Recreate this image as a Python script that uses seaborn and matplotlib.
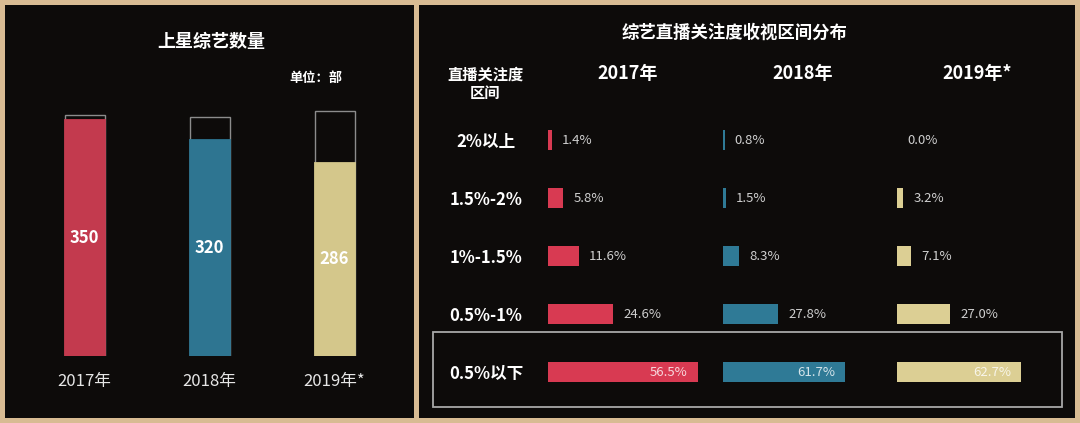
import matplotlib
matplotlib.use("Agg")
import matplotlib.pyplot as plt
from matplotlib.patches import Rectangle
import seaborn as sns
import pandas as pd

# ---------------- data ----------------
years = ["2017年", "2018年", "2019年*"]
shows = [350, 320, 286]                 # 上星综艺数量 (部)
capacity = [357, 354, 362]              # outline boxes behind the bars
ranges = ["2%以上", "1.5%-2%", "1%-1.5%", "0.5%-1%", "0.5%以下"]
share_2017 = [1.4, 5.8, 11.6, 24.6, 56.5]
share_2018 = [0.8, 1.5, 8.3, 27.8, 61.7]
share_2019 = [0.0, 3.2, 7.1, 27.0, 62.7]

# ---------------- style ----------------
sns.set_style("dark")
plt.rcParams["font.family"] = ["Noto Sans CJK SC", "DejaVu Sans"]
plt.rcParams["axes.unicode_minus"] = False

BEIGE = "#d8bb93"
DARK = "#0d0b0a"
left_colors = ["#c33a4e", "#2e7591", "#d4c78b"]
right_colors = ["#d83a52", "#2f7a96", "#dccf94"]

W, H = 1080, 423
fig = plt.figure(figsize=(W / 100, H / 100), dpi=100, facecolor=BEIGE)


def rect(x0, y0, x1, y1):
    return [x0 / W, 1 - y1 / H, (x1 - x0) / W, (y1 - y0) / H]


def fig_rect(x0, y0, x1, y1, **kw):
    r = Rectangle((x0 / W, 1 - y1 / H), (x1 - x0) / W, (y1 - y0) / H,
                  transform=fig.transFigure, **kw)
    fig.add_artist(r)
    return r


def clean(ax):
    ax.set_facecolor("none")
    for s in ax.spines.values():
        s.set_visible(False)
    ax.grid(False)
    ax.set_xlabel("")
    ax.set_ylabel("")


# dark panels
fig_rect(5, 5, 414, 418, facecolor=DARK, edgecolor="none", zorder=0)
fig_rect(419, 5, 1075, 418, facecolor=DARK, edgecolor="none", zorder=0)

# ---------------- left panel ----------------
fig.text(211 / W, 1 - 41 / H, "上星综艺数量", color="white", fontsize=13,
         fontweight="bold", ha="center", va="center")
fig.text(316 / W, 1 - 78 / H, "单位：部", color="white", fontsize=9.5,
         fontweight="bold", ha="center", va="center")

axL = fig.add_axes(rect(22, 106, 397, 356))
dfL = pd.DataFrame({"year": years, "shows": shows, "cap": capacity})
sns.barplot(data=dfL, x="year", y="cap", order=years, fill=False,
            color="#8c8c8c", linewidth=1.0, width=0.32, ax=axL,
            err_kws={"linewidth": 0})
sns.barplot(data=dfL, x="year", y="shows", order=years, hue="year",
            hue_order=years, palette=left_colors, saturation=1, width=0.32,
            legend=False, ax=axL, err_kws={"linewidth": 0}, linewidth=1.3)
for c in axL.containers[1:]:
    for p in c.patches:
        p.set_zorder(3)
        p.set_edgecolor(p.get_facecolor())
for i, v in enumerate(shows):
    axL.text(i, v / 2, str(v), color="white", fontsize=12, fontweight="bold",
             ha="center", va="center", zorder=5)
axL.set_xlim(-0.5, 2.5)
axL.set_ylim(0, 370)
clean(axL)
axL.set_yticks([])
axL.tick_params(axis="x", length=0, pad=12, labelsize=12, labelcolor="#e6e6e6")

# ---------------- right panel ----------------
fig.text(735 / W, 1 - 33 / H, "综艺直播关注度收视区间分布", color="white",
         fontsize=12.5, fontweight="bold", ha="center", va="center")
fig.text(485 / W, 1 - 75 / H, "直播关注度", color="white", fontsize=11,
         fontweight="bold", ha="center", va="center")
fig.text(485 / W, 1 - 93 / H, "区间", color="white", fontsize=11,
         fontweight="bold", ha="center", va="center")

# highlight box around the last row
fig_rect(433, 332, 1062, 407, facecolor="none", edgecolor="#a8a8a8",
         linewidth=1.3, zorder=2)

col_left = [548, 723, 897]
col_scale = [2.65, 1.98, 1.98]        # pixels per percentage point
col_width = 160
row_top, row_bot = 111, 401
shares = [share_2017, share_2018, share_2019]

for k in range(3):
    x0 = col_left[k]
    ax = fig.add_axes(rect(x0, row_top, x0 + col_width, row_bot))
    df = pd.DataFrame({"range": ranges, "share": shares[k]})
    sns.barplot(data=df, x="share", y="range", order=ranges, orient="h",
                color=right_colors[k], saturation=1, width=0.36, ax=ax,
                err_kws={"linewidth": 0}, linewidth=0, edgecolor="none")
    ax.set_xlim(0, col_width / col_scale[k])
    ax.set_ylim(len(ranges) - 0.5, -0.5)
    clean(ax)
    ax.set_xticks([])
    if k == 0:
        ax.tick_params(axis="y", length=0, pad=44.6, labelsize=12,
                       labelcolor="white")
        for t in ax.get_yticklabels():
            t.set_ha("center")
            t.set_fontweight("bold")
    else:
        ax.set_yticks([])
    for i, v in enumerate(shares[k]):
        if i == len(ranges) - 1:
            ax.annotate(f"{v:.1f}%", (v, i), xytext=(-7.2, 0),
                        textcoords="offset points", ha="right", va="center",
                        color="white", alpha=0.8, fontsize=9.5)
        else:
            ax.annotate(f"{v:.1f}%", (v, i), xytext=(7.2, 0),
                        textcoords="offset points", ha="left", va="center",
                        color="#cfcfcf", fontsize=9.5)
    ax.text(0.5, 1 + (row_top - 73.5) / (row_bot - row_top), years[k],
            transform=ax.transAxes, color="white", fontsize=13,
            fontweight="bold", ha="center", va="center")

fig.savefig("out.png", dpi=100, facecolor=BEIGE)
